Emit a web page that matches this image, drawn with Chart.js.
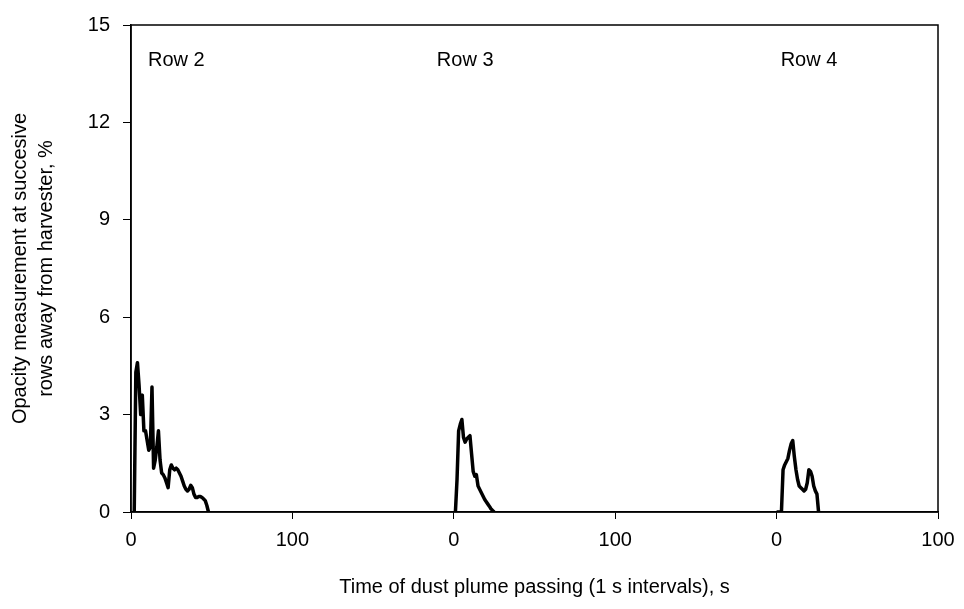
<!DOCTYPE html>
<html>
<head>
<meta charset="utf-8">
<title>Opacity measurement</title>
<script src="https://cdn.jsdelivr.net/npm/chart.js@4/dist/chart.umd.min.js"></script>
<style>
  html, body { margin: 0; padding: 0; background: #fff; }
  #wrap { width: 964px; height: 609px; }
</style>
</head>
<body>
<div id="wrap"><canvas id="opacity-chart" width="964" height="609"></canvas></div>
<script>
// seconds since plume arrival, for each row
const row2Times = [2, 3, 4, 5, 6, 7, 8, 9, 10, 11, 12, 13, 14, 15, 16, 17, 18, 19, 20, 21, 22, 23, 24, 25, 26, 27, 28, 29, 30, 31, 32, 33, 34, 35, 36, 37, 38, 39, 40, 41, 42, 43, 44, 45, 46, 47, 48];
const row2Values = [0, 4.3, 4.6, 3.9, 3.0, 3.6, 2.5, 2.5, 2.2, 1.9, 2.0, 3.85, 1.35, 1.6, 2.0, 2.5, 1.6, 1.2, 1.15, 1.05, 0.9, 0.75, 1.3, 1.45, 1.35, 1.3, 1.35, 1.3, 1.2, 1.1, 0.95, 0.8, 0.7, 0.65, 0.7, 0.82, 0.75, 0.55, 0.45, 0.45, 0.48, 0.48, 0.45, 0.4, 0.35, 0.2, 0];

const row3Times = [0, 1, 2, 3, 4, 5, 6, 7, 8, 9, 10, 11, 12, 13, 14, 15, 16, 17, 18, 19, 20, 21, 22, 23, 24, 25];
const row3Values = [0, 0, 1.0, 2.5, 2.7, 2.85, 2.3, 2.15, 2.25, 2.3, 2.35, 1.8, 1.25, 1.1, 1.15, 0.8, 0.7, 0.6, 0.5, 0.4, 0.32, 0.25, 0.18, 0.1, 0.05, 0];

const row4Times = [0, 1, 2, 3, 4, 5, 6, 7, 8, 9, 10, 11, 12, 13, 14, 15, 16, 17, 18, 19, 20, 21, 22, 23, 24, 25, 26];
const row4Values = [0, 0, 0, 0, 1.3, 1.45, 1.55, 1.65, 1.9, 2.1, 2.2, 1.7, 1.3, 1.0, 0.8, 0.75, 0.7, 0.65, 0.7, 0.9, 1.3, 1.25, 1.1, 0.8, 0.65, 0.55, 0];

// each row panel starts 200 s further along the shared axis
const rowNames = ['Row 2', 'Row 3', 'Row 4'];
const rowOffsets = [0, 200, 400];
const xTickLabels = ['0', '100', '0', '100', '0', '100'];
const yTicks = [0, 3, 6, 9, 12, 15];

const FONT = 'Liberation Sans, Arial, sans-serif';

function toPoints(times, values, offset) {
  return times.map((t, i) => ({ x: offset + t, y: values[i] }));
}

const rows = [
  toPoints(row2Times, row2Values, rowOffsets[0]),
  toPoints(row3Times, row3Values, rowOffsets[1]),
  toPoints(row4Times, row4Values, rowOffsets[2])
];

const framePlugin = {
  id: 'frame',
  afterDraw(chart) {
    const { ctx, chartArea: a, scales } = chart;
    ctx.save();
    ctx.strokeStyle = '#000';
    ctx.lineWidth = 1.5;
    ctx.strokeRect(a.left, a.top, a.right - a.left, a.bottom - a.top);

    // row captions
    ctx.fillStyle = '#000';
    ctx.font = '20px ' + FONT;
    ctx.textAlign = 'left';
    ctx.textBaseline = 'middle';
    const labelX = [10.5, 189.5, 402.5];
    rowNames.forEach((name, i) => {
      ctx.fillText(name, scales.x.getPixelForValue(labelX[i]), scales.y.getPixelForValue(13.9));
    });
    ctx.restore();
  }
};

function initChart() {
  const ctx = document.getElementById('opacity-chart').getContext('2d');
  new Chart(ctx, {
    type: 'line',
    data: {
      datasets: rows.map((pts, i) => ({
        label: rowNames[i],
        data: pts,
        borderColor: '#000',
        borderWidth: 3.5,
        borderJoinStyle: 'round',
        pointRadius: 0,
        tension: 0,
        fill: false
      }))
    },
    options: {
      responsive: false,
      animation: false,
      layout: { padding: { top: 21, right: 26, left: 0, bottom: 0 } },
      plugins: { legend: { display: false }, tooltip: { enabled: false } },
      scales: {
        x: {
          type: 'linear',
          min: 0,
          max: 500,
          afterBuildTicks: (s) => { s.ticks = xTickLabels.map((_, i) => ({ value: i * 100 })); },
          afterFit: (s) => { s.height = 97; },
          grid: { drawOnChartArea: false, drawTicks: true, tickLength: 7, color: '#000' },
          border: { color: '#000', width: 1.5 },
          ticks: {
            color: '#000',
            font: { family: FONT, size: 20 },
            padding: 9,
            maxRotation: 0,
            callback: (v, i) => xTickLabels[i]
          },
          title: {
            display: true,
            text: 'Time of dust plume passing (1 s intervals), s',
            color: '#000',
            font: { family: FONT, size: 20 },
            padding: { top: 0, bottom: 10 }
          }
        },
        y: {
          min: 0,
          max: 15,
          afterBuildTicks: (s) => { s.ticks = yTicks.map(v => ({ value: v })); },
          afterFit: (s) => { s.width = 131; },
          grid: { drawOnChartArea: false, drawTicks: true, tickLength: 8, color: '#000' },
          border: { color: '#000', width: 1.5 },
          ticks: {
            color: '#000',
            font: { family: FONT, size: 20 },
            padding: 13
          },
          title: {
            display: true,
            text: ['Opacity measurement at succesive', 'rows away from harvester, %'],
            color: '#000',
            font: { family: FONT, size: 20, lineHeight: 1.3 },
            padding: { top: 7, bottom: 0 }
          }
        }
      }
    },
    plugins: [framePlugin]
  });
}

document.addEventListener('DOMContentLoaded', initChart);
</script>
</body>
</html>
